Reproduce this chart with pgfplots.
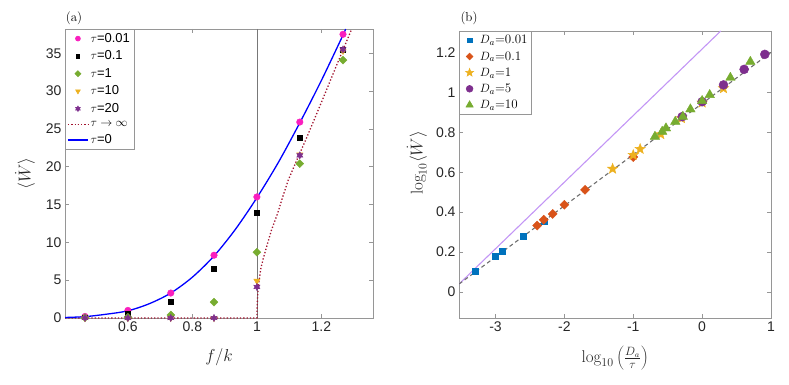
\documentclass[border=0pt]{standalone}
\usepackage{pgfplots}
\pgfplotsset{compat=1.18}
\usepackage{fontspec}
\newfontfamily\helv{Liberation Sans}
\definecolor{mag}{RGB}{250,30,190}
\definecolor{mgreen}{RGB}{119,172,48}
\definecolor{myellow}{RGB}{237,177,32}
\definecolor{mpurple}{RGB}{126,47,142}
\definecolor{mblue}{RGB}{0,114,189}
\definecolor{morange}{RGB}{217,83,25}
\definecolor{mred}{RGB}{162,20,47}
\definecolor{axgray}{RGB}{150,150,150}
\definecolor{ticktext}{RGB}{38,38,38}
\definecolor{lpurple}{RGB}{195,150,245}
\definecolor{dgray}{RGB}{110,110,110}
\pgfdeclareplotmark{fstar}{%
 \pgfpathmoveto{\pgfpointpolar{90}{\pgfplotmarksize}}%
 \pgfpathlineto{\pgfpointpolar{126}{0.42\pgfplotmarksize}}%
 \pgfpathlineto{\pgfpointpolar{162}{\pgfplotmarksize}}%
 \pgfpathlineto{\pgfpointpolar{198}{0.42\pgfplotmarksize}}%
 \pgfpathlineto{\pgfpointpolar{234}{\pgfplotmarksize}}%
 \pgfpathlineto{\pgfpointpolar{270}{0.42\pgfplotmarksize}}%
 \pgfpathlineto{\pgfpointpolar{306}{\pgfplotmarksize}}%
 \pgfpathlineto{\pgfpointpolar{342}{0.42\pgfplotmarksize}}%
 \pgfpathlineto{\pgfpointpolar{18}{\pgfplotmarksize}}%
 \pgfpathlineto{\pgfpointpolar{54}{0.42\pgfplotmarksize}}%
 \pgfpathclose\pgfusepathqfillstroke}
\pgfdeclareplotmark{hexa}{%
 \pgfpathmoveto{\pgfpointpolar{90}{\pgfplotmarksize}}%
 \pgfpathlineto{\pgfpointpolar{120}{0.55\pgfplotmarksize}}%
 \pgfpathlineto{\pgfpointpolar{150}{\pgfplotmarksize}}%
 \pgfpathlineto{\pgfpointpolar{180}{0.55\pgfplotmarksize}}%
 \pgfpathlineto{\pgfpointpolar{210}{\pgfplotmarksize}}%
 \pgfpathlineto{\pgfpointpolar{240}{0.55\pgfplotmarksize}}%
 \pgfpathlineto{\pgfpointpolar{270}{\pgfplotmarksize}}%
 \pgfpathlineto{\pgfpointpolar{300}{0.55\pgfplotmarksize}}%
 \pgfpathlineto{\pgfpointpolar{330}{\pgfplotmarksize}}%
 \pgfpathlineto{\pgfpointpolar{0}{0.55\pgfplotmarksize}}%
 \pgfpathlineto{\pgfpointpolar{30}{\pgfplotmarksize}}%
 \pgfpathlineto{\pgfpointpolar{60}{0.55\pgfplotmarksize}}%
 \pgfpathclose\pgfusepathqfillstroke}
\pgfplotsset{
 mystyle/.style={
  scale only axis,
  anchor=south west,
  tick align=inside,
  major tick length=4pt,
  axis line style={axgray, line width=0.6pt},
  every tick/.style={axgray, line width=0.6pt},
  tick label style={font=\helv\fontsize{14}{16}\selectfont, text=ticktext},
  /pgf/number format/assume math mode=true,
  label style={font=\fontsize{17}{19}\selectfont, text=ticktext},
  clip marker paths=false,
 }
}
\begin{document}
\begin{tikzpicture}
\useasboundingbox (0,-385pt) rectangle (789pt,0pt);
% ---------------- panel (a)
\begin{axis}[mystyle,
 width=308pt, height=289pt, at={(65pt,-318pt)},
 xmin=0.405, xmax=1.36, ymin=0, ymax=38.2,
 xtick={0.6,0.8,1,1.2}, ytick={0,5,10,15,20,25,30,35},
 xlabel={$f/k$}, ylabel={$\langle\dot W\rangle$},
 xlabel style={at={(axis description cs:0.5,-0.135)}, anchor=center},
 ylabel style={at={(axis description cs:-0.13,0.5)}, anchor=center},
 legend style={at={(0,1)}, anchor=north west, draw=axgray, line width=0.6pt,
   font=\helv\fontsize{13}{14}\selectfont, text=black, inner sep=2pt, row sep=3pt,
   cells={anchor=west}},
 legend image code/.code={\draw[mark repeat=2,mark phase=2,#1] plot coordinates {(0pt,0pt)(10pt,0pt)(20pt,0pt)};},
 legend image post style={every mark/.append style={scale=0.75}},
]
\addplot[axgray!80!black, line width=0.6pt, forget plot] coordinates {(1,0) (1,38.2)};
\addplot[only marks, mark=*, mark size=3.3pt, color=mag] coordinates {
 (0.467,0.2) (0.6,1.0) (0.733,3.3) (0.867,8.3) (1,16.0) (1.133,25.9) (1.267,37.5)};
\addlegendentry{$\tau$=0.01}
\addplot[only marks, mark=square*, mark size=2.4pt, color=black] coordinates {
 (0.467,0.1) (0.6,0.6) (0.733,2.2) (0.867,6.5) (1,13.9) (1.133,23.8) (1.267,35.5)};
\addlegendentry{$\tau$=0.1}
\addplot[only marks, mark=square*, mark size=2.8pt, color=mgreen, mark options={rotate=45}] coordinates {
 (0.467,0.05) (0.6,0.1) (0.733,0.4) (0.867,2.1) (1,8.7) (1.133,20.4) (1.267,34.1)};
\addlegendentry{$\tau$=1}
\addplot[only marks, mark=triangle*, mark size=3.6pt, color=myellow, mark options={rotate=180}] coordinates {
 (0.467,0) (0.6,0) (0.733,0) (0.867,0) (1,4.9) (1.133,21.6) (1.267,35.3)};
\addlegendentry{$\tau$=10}
\addplot[only marks, mark=hexa, mark size=3.6pt, color=mpurple] coordinates {
 (0.467,0) (0.6,0) (0.733,0) (0.867,0) (1,4.1) (1.133,21.5) (1.267,35.5)};
\addlegendentry{$\tau$=20}
\addplot[mred, dotted, line width=1.3pt] coordinates {
 (0.405,0) (1,0) (1.001,1.8) (1.003,3.3) (1.007,5) (1.012,6.5) (1.02,7.9) (1.03,9.4)
 (1.045,11.6) (1.064,13.8) (1.08,16) (1.097,18.2) (1.125,21.0) (1.153,23.7)
 (1.2,28.5) (1.25,33.7) (1.294,38.2)};
\addlegendentry{$\tau\rightarrow\infty$}
\addplot[blue, line width=1.3pt, smooth] coordinates {
 (0.405,0.07) (0.467,0.18) (0.533,0.5) (0.6,0.95) (0.667,1.9) (0.733,3.3) (0.8,5.4)
 (0.867,8.2) (0.933,11.7) (1,15.9) (1.067,20.6) (1.133,25.8) (1.2,31.4) (1.267,37.4) (1.275,38.2)};
\addlegendentry{$\tau$=0}
\end{axis}
\node[font=\fontsize{13}{15}\selectfont] at (74pt,-18pt) {(a)};
% ---------------- panel (b)
\begin{axis}[mystyle,
 width=312pt, height=287pt, at={(459pt,-318pt)},
 xmin=-3.53, xmax=1.0, ymin=-0.13, ymax=1.307,
 xtick={-3,-2,-1,0,1}, ytick={0,0.2,0.4,0.6,0.8,1,1.2},
 xlabel={$\log_{10}\left(\frac{D_a}{\tau}\right)$}, ylabel={$\log_{10}\langle\dot W\rangle$},
 xlabel style={at={(axis description cs:0.5,-0.139)}, anchor=center},
 ylabel style={at={(axis description cs:-0.135,0.54)}, anchor=center},
 legend style={at={(0,1)}, anchor=north west, draw=axgray, line width=0.6pt,
   font=\fontsize{13}{14}\selectfont, text=black, inner sep=2pt, row sep=2pt,
   cells={anchor=west}},
 legend image code/.code={\path (0pt,0pt) (16pt,0pt); \draw[#1] plot coordinates {(8pt,0pt)};},
 legend image post style={every mark/.append style={scale=0.75}},
]
\addplot[lpurple, line width=1.1pt, forget plot] coordinates {(-3.53,0.04) (0.27,1.307)};
\addplot[dgray, dashed, line width=1.1pt, dash pattern=on 4pt off 3pt, forget plot] coordinates {(-3.53,0.04) (1.0,1.20)};
\addplot[only marks, mark=square*, mark size=3pt, color=mblue] coordinates {
 (-3.30,0.105) (-3.0,0.181) (-2.905,0.206) (-2.6,0.281) (-2.3,0.353)};
\addlegendentry{$D_a$=0.01}
\addplot[only marks, mark=square*, mark size=3.2pt, color=morange, mark options={rotate=45}] coordinates {
 (-2.395,0.333) (-2.3,0.362) (-2.17,0.391) (-2.0,0.437) (-1.70,0.512) (-1.0,0.676)};
\addlegendentry{$D_a$=0.1}
\addplot[only marks, mark=fstar, mark size=5.5pt, color=myellow] coordinates {
 (-1.30,0.617) (-1.0,0.686) (-0.9,0.716) (-0.6,0.79) (-0.3,0.87) (0.0,0.948) (0.31,1.02)};
\addlegendentry{$D_a$=1}
\addplot[only marks, mark=*, mark size=4.5pt, color=mpurple] coordinates {
 (-0.29,0.878) (0.0,0.953) (0.31,1.037) (0.61,1.115) (0.91,1.19)};
\addlegendentry{$D_a$=5}
\addplot[only marks, mark=triangle*, mark size=5.5pt, color=mgreen] coordinates {
 (-0.685,0.778) (-0.58,0.803) (-0.525,0.82) (-0.39,0.853) (-0.28,0.878) (-0.17,0.915)
 (0.0,0.957) (0.11,0.987) (0.41,1.073) (0.70,1.153)};
\addlegendentry{$D_a$=10}
\end{axis}
\node[font=\fontsize{13}{15}\selectfont] at (469pt,-18pt) {(b)};
\end{tikzpicture}
\end{document}
